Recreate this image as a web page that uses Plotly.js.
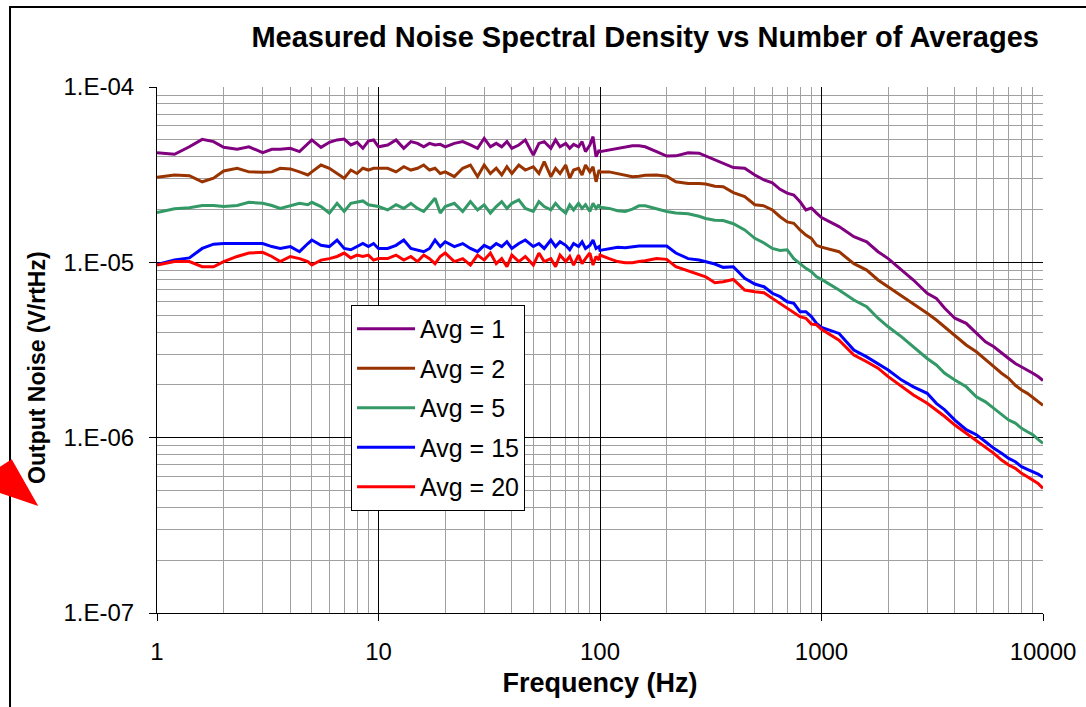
<!DOCTYPE html>
<html>
<head>
<meta charset="utf-8">
<script src="https://cdn.plot.ly/plotly-3.0.1.min.js"></script>
<style>html,body{margin:0;padding:0;background:#fff;}#chart{width:1086px;height:707px;}</style>
</head>
<body>
<div id="chart"></div>
<script>
// Frequency (Hz)
const freq = [
  1,1.2,1.4,1.6,1.8,2,2.3,2.6,3,3.3,3.6,4,4.4,4.8,5,5.5,6,6.5,7,7.5,8,8.5,9,9.5,10,
  11,12,13,14,15,16,17,18,19,20,22,24,26,28,30,32,34,36,38,40,43,46,50,53,56,60,63,66,70,73,76,80,83,86,90,93,96,99,
  100,110,120,130,140,150,160,180,200,220,250,280,300,330,360,400,450,500,550,600,650,700,750,800,850,900,950,1000,
  1200,1400,1600,1800,2000,2300,2600,3000,3300,3600,4000,4500,5000,5500,6000,6500,7000,7500,8000,8500,9000,9500,10000
];
// Output noise in uV/rtHz
const avg1 = [
  42.2,41.3,45.6,50.3,48.8,45.3,44.1,45.6,42.2,44.1,44.1,44.7,42.8,47.7,49.9,45.3,48.4,49.9,50.5,46.7,48.4,44.7,49.2,49.9,45.6,
  46.7,49.9,44.7,48.8,47.7,45.6,47.7,46.7,47.1,45.6,47.7,48.8,46.7,44.7,51.0,45.6,47.7,45.6,48.8,44.7,46.7,49.9,40.9,47.7,48.8,44.7,49.9,45.6,47.7,44.7,47.1,45.6,48.8,42.8,46.7,52.1,40.0,43.7,
  42.8,43.7,44.7,45.6,46.2,46.2,45.6,42.8,40.4,40.5,42.2,41.9,40.4,38.3,36.4,34.7,34.4,31.5,29.5,28.4,26.1,24.8,24.2,22.2,19.9,20.4,19.1,18.0,
  16.0,14.0,13.1,11.5,10.5,9.03,7.93,6.66,6.23,5.47,4.80,4.49,3.93,3.52,3.30,3.03,2.83,2.65,2.54,2.43,2.33,2.23,2.12
];
const avg2 = [
  30.6,31.5,31.2,28.8,30.2,33.2,34.4,32.8,32.6,32.8,34.4,34.1,32.8,31.5,32.8,35.9,34.4,32.1,30.2,33.6,32.1,34.4,33.6,34.4,34.4,
  34.4,32.8,35.1,33.6,34.4,35.9,33.6,34.4,32.1,32.8,30.8,34.4,35.9,30.8,35.9,32.1,34.4,31.5,35.1,32.1,35.9,33.6,35.1,32.1,37.5,30.8,34.4,32.1,35.9,30.2,33.6,34.4,31.5,35.9,32.8,35.1,28.8,33.6,
  32.8,32.8,32.1,31.2,30.8,31.0,31.4,31.5,31.0,28.8,28.2,28.2,28.0,27.2,27.0,25.0,23.7,21.3,21.0,19.9,18.2,17.0,16.7,15.3,14.3,13.7,12.5,12.2,
  11.5,9.83,9.03,7.93,7.26,6.42,5.84,5.12,4.69,4.29,3.85,3.38,3.09,2.77,2.54,2.33,2.18,1.99,1.87,1.79,1.70,1.60,1.53
];
const avg5 = [
  19.2,20.2,20.5,21.1,21.1,20.8,21.1,22.0,21.7,21.1,20.3,21.1,21.7,21.3,22.0,20.8,19.1,21.7,19.5,21.7,22.0,22.4,21.3,21.1,20.8,
  19.9,21.3,20.3,21.7,20.3,19.5,21.3,23.2,19.1,20.8,21.7,19.5,22.2,19.9,21.3,19.1,20.8,22.2,20.3,21.7,22.7,20.3,19.5,22.2,20.8,19.9,21.7,20.3,19.1,21.3,19.9,21.7,20.3,21.3,19.5,21.7,20.3,21.3,
  20.6,20.3,19.7,19.5,20.1,21.0,21.0,20.1,19.5,19.1,18.9,18.3,17.8,17.4,17.3,16.6,15.3,13.7,12.9,12.0,11.7,11.8,10.5,9.83,9.24,8.84,8.27,7.99,
  6.95,6.10,5.58,4.80,4.29,3.76,3.30,2.83,2.60,2.33,2.13,1.95,1.71,1.60,1.47,1.35,1.26,1.21,1.13,1.08,1.04,0.978,0.928
];
const avg15 = [
  9.71,10.3,10.6,12.0,12.7,12.8,12.8,12.8,12.8,12.3,12.0,12.3,11.5,12.8,13.4,12.5,12.3,13.4,12.0,11.8,12.3,12.8,12.3,12.8,12.0,
  12.0,12.5,13.4,12.0,11.8,11.5,12.0,13.4,12.3,13.1,12.3,12.8,12.0,11.5,12.5,12.0,12.8,12.3,13.1,12.0,12.8,13.4,12.3,12.8,12.0,13.4,12.3,13.1,12.5,11.8,12.8,12.3,13.1,12.0,12.5,13.4,12.0,12.3,
  11.7,12.0,12.2,12.1,12.3,12.4,12.4,12.4,12.4,11.3,10.5,10.3,10.1,9.78,9.36,9.44,8.10,7.52,7.26,6.66,6.37,5.96,5.84,5.23,5.23,4.90,4.49,4.26,
  3.93,3.16,2.89,2.65,2.43,2.13,1.95,1.79,1.57,1.44,1.26,1.11,1.04,0.948,0.869,0.814,0.762,0.729,0.683,0.660,0.640,0.620,0.594
];
const avg20 = [
  9.65,10.1,10.1,9.44,9.44,10.1,10.8,11.3,11.4,10.8,10.1,10.8,10.5,10.1,9.65,10.3,10.5,10.8,11.3,10.6,11.0,10.8,11.0,10.3,10.5,
  10.5,11.0,10.3,10.8,10.1,11.0,10.5,9.83,10.8,11.3,10.1,10.5,9.65,11.0,10.3,11.3,9.83,10.5,9.44,11.0,10.1,10.8,9.65,11.3,10.1,10.5,9.44,11.0,10.1,10.8,9.65,11.0,9.83,10.5,11.3,9.65,10.8,10.3,
  11.0,10.5,10.1,9.95,9.95,10.1,10.2,10.5,10.4,9.44,8.95,8.57,8.27,7.65,7.75,7.99,6.95,6.80,6.71,6.23,5.84,5.47,5.16,4.90,4.80,4.45,4.40,4.15,
  3.60,2.96,2.71,2.49,2.23,1.95,1.75,1.57,1.44,1.32,1.18,1.06,0.969,0.888,0.814,0.745,0.698,0.669,0.626,0.598,0.573,0.548,0.514
];
const seriesNames = ['Avg = 1','Avg = 2','Avg = 5','Avg = 15','Avg = 20'];
const seriesColors = ['#800080','#993300','#339966','#0000ff','#ff0000'];
const xTickVals = [1,10,100,1000,10000];
const xTickText = ['1','10','100','1000','10000'];
const yTickVals = [1e-7,1e-6,1e-5,1e-4];
const yTickText = ['1.E-07','1.E-06','1.E-05','1.E-04'];

const FONT = 'Liberation Sans, Arial, sans-serif';
const allSeries = [avg1, avg2, avg5, avg15, avg20];
const traces = allSeries.map((vals, i) => ({
  x: freq,
  y: vals.map(v => v * 1e-6),
  type: 'scatter',
  mode: 'lines',
  name: seriesNames[i],
  legendgroup: 'g' + i,
  line: {color: seriesColors[i], width: 3}
}));

const axisCommon = {
  type: 'log',
  tickmode: 'array',
  showgrid: true,
  gridcolor: '#000000',
  gridwidth: 1,
  minor: {dtick: 'D1', showgrid: true, gridcolor: '#a0a0a0', gridwidth: 1, ticks: ''},
  ticks: 'outside',
  ticklen: 7,
  tickcolor: '#000',
  tickwidth: 1,
  showline: true,
  linecolor: '#000',
  linewidth: 1,
  zeroline: false,
  tickfont: {family: FONT, size: 24, color: '#000'}
};

const layout = {
  width: 1086,
  height: 707,
  margin: {l: 157, r: 43, t: 87, b: 94},
  paper_bgcolor: '#ffffff',
  plot_bgcolor: '#ffffff',
  font: {family: FONT, color: '#000'},
  title: {
    text: '<b>Measured Noise Spectral Density vs Number of Averages</b>',
    font: {family: FONT, size: 29, color: '#000'},
    x: 0.551, xref: 'paper', xanchor: 'center',
    y: 1 - 37/707, yref: 'container', yanchor: 'middle'
  },
  xaxis: Object.assign({}, axisCommon, {
    range: [0, 4],
    tickvals: xTickVals,
    ticktext: xTickText,
    ticklabelstandoff: 10,
    title: {text: '<b>Frequency (Hz)</b>', font: {family: FONT, size: 27, color: '#000'}, standoff: 9}
  }),
  yaxis: Object.assign({}, axisCommon, {
    range: [-7, -4],
    tickvals: yTickVals,
    ticktext: yTickText,
    ticklabelstandoff: 10
  }),
  showlegend: true,
  legend: {
    x: 0.219, y: 0.5856, xanchor: 'left', yanchor: 'top',
    bgcolor: '#ffffff', bordercolor: '#000', borderwidth: 1,
    font: {family: FONT, size: 25, color: '#000'},
    tracegroupgap: 4,
    itemwidth: 58,
    traceorder: 'grouped'
  },
  annotations: [{
    text: '<b>Output Noise (V/rtHz)</b>',
    textangle: -90,
    xref: 'paper', yref: 'paper',
    x: -0.1354, y: 0.466,
    xanchor: 'center', yanchor: 'middle',
    showarrow: false,
    font: {family: FONT, size: 23, color: '#000'}
  }],
  shapes: [
    {type: 'rect', xref: 'paper', yref: 'paper', x0: -0.1659, x1: 1.06, y0: -0.21, y1: 1.1521,
     line: {color: '#000', width: 2}, fillcolor: 'rgba(0,0,0,0)', layer: 'below'},
    {type: 'path', xref: 'paper', yref: 'paper',
     path: 'M -0.1640,0.2922 L -0.1340,0.2034 L -0.1772,0.2281 L -0.1772,0.2781 Z',
     fillcolor: '#ff0000', line: {color: '#ff0000', width: 0}}
  ]
};

Plotly.newPlot('chart', traces, layout, {displayModeBar: false, staticPlot: true});
</script>
</body>
</html>
